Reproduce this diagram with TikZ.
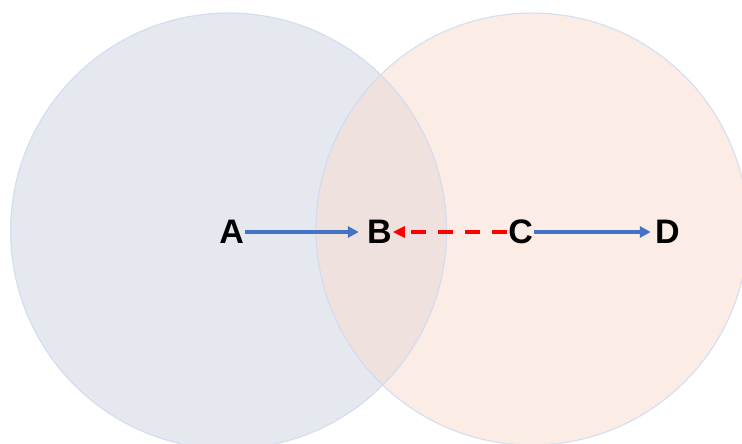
\documentclass[tikz,border=0pt]{standalone}
\usepackage{fontspec}
\setmainfont{Liberation Sans}
\usetikzlibrary{arrows.meta}
\definecolor{setblue}{RGB}{229,232,239}
\definecolor{setorange}{RGB}{248,222,209}
\definecolor{rimblue}{RGB}{206,218,240}
\definecolor{arrowblue}{RGB}{68,114,196}

\begin{document}
\begin{tikzpicture}[x=1pt, y=-1pt,
    every node/.style={inner sep=1pt, font=\bfseries\fontsize{34}{34}\selectfont},
    bluearrow/.style={arrowblue, line width=3.3pt, -{Triangle[length=11pt, width=11pt]}},
    redarrow/.style={red, line width=3.3pt, dash pattern=on 15pt off 12pt, -{Triangle[length=12pt, width=11pt]}}]
            \useasboundingbox (0,0) rectangle (742,444);
            \clip (0,0) rectangle (742,444);
            % Circles
            \fill[setblue] (228.6,231) circle[radius=218pt];
            \fill[setorange, fill opacity=0.54] (532,229) circle[radius=216pt];
            \draw[rimblue, line width=1.2pt, draw opacity=0.8] (228.6,231) circle[radius=218pt];
            \draw[rimblue, line width=1.2pt, draw opacity=0.8] (532,229) circle[radius=216pt];
            % Nodes
            \foreach \n/\x in {A/231.7, B/379.3, C/520.7, D/667.3} {
                \node (\n) at (\x,232) {\n};
            }
            % Arrows
            \draw[bluearrow, shorten >=7pt] (A) -- (B);
            \draw[redarrow] (C) -- (B);
            \draw[bluearrow, shorten >=3pt] (C) -- (D);
        \end{tikzpicture}
\end{document}
